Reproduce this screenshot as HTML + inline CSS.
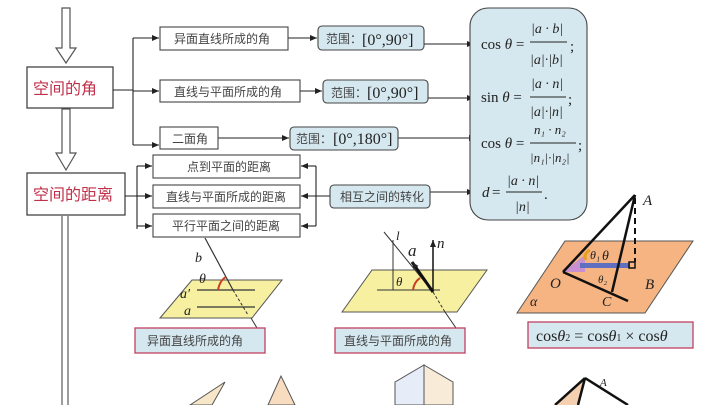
<!DOCTYPE html>
<html><head><meta charset="utf-8"><style>
html,body{margin:0;padding:0;background:#fff;}
svg{display:block}
text{font-family:"Liberation Serif","Noto Serif CJK SC",serif;}
.cn{font-family:"Liberation Sans","Noto Sans CJK SC",sans-serif;font-size:12px;fill:#444;}
.red{font-family:"Liberation Sans","Noto Sans CJK SC",sans-serif;font-size:16px;fill:#c0304a;}
.m{font-family:"Liberation Serif",serif;font-style:italic;fill:#222;}
</style></head><body>
<svg width="719" height="405" viewBox="0 0 719 405" xmlns="http://www.w3.org/2000/svg">
<defs>
<marker id="ar" markerWidth="8" markerHeight="8" refX="7" refY="4" orient="auto" markerUnits="userSpaceOnUse"><path d="M0,1 L7,4 L0,7z" fill="#222"/></marker>
</defs>
<rect width="719" height="405" fill="#fff"/>
<g fill="#fff" stroke="#555" stroke-width="1.2">
<path d="M62,8 H70 V48 H76 L66,63 L56,48 H62Z"/>
<path d="M62,109 H70 V153 H76 L66,170 L56,153 H62Z"/>
</g>
<line x1="62" y1="216" x2="62" y2="405" stroke="#666" stroke-width="1.3"/>
<line x1="68" y1="216" x2="68" y2="405" stroke="#666" stroke-width="1.3"/>
<rect x="27" y="67" width="86" height="41" fill="#fff" stroke="#444" stroke-width="1.3"/>
<text x="33" y="94" class="red">空间的角</text>
<rect x="27" y="173" width="98" height="42" fill="#fff" stroke="#444" stroke-width="1.3"/>
<text x="33" y="200" class="red">空间的距离</text>
<g stroke="#222" stroke-width="1.1" fill="none">
<path d="M113,90 H133 M133,38 V145"/>
<line x1="133" y1="38" x2="159" y2="38" marker-end="url(#ar)"/>
<line x1="133" y1="91" x2="159" y2="91" marker-end="url(#ar)"/>
<line x1="133" y1="145" x2="159" y2="145" marker-end="url(#ar)"/>
<line x1="288" y1="38" x2="317" y2="38" marker-end="url(#ar)"/>
<line x1="300" y1="91" x2="322" y2="91" marker-end="url(#ar)"/>
<line x1="218" y1="138" x2="289" y2="138" marker-end="url(#ar)"/>
<line x1="424" y1="44" x2="474" y2="44" marker-end="url(#ar)"/>
<line x1="428" y1="98" x2="474" y2="98" marker-end="url(#ar)"/>
<line x1="398" y1="138" x2="476" y2="138" marker-end="url(#ar)"/>
<line x1="430" y1="192" x2="474" y2="192" marker-end="url(#ar)"/>
<path d="M125,196 H137 M137,166 V229"/>
<line x1="137" y1="166" x2="152" y2="166" marker-end="url(#ar)"/>
<line x1="137" y1="196" x2="152" y2="196" marker-end="url(#ar)"/>
<line x1="137" y1="226" x2="152" y2="226" marker-end="url(#ar)"/>
<path d="M316,166 V226"/>
<line x1="316" y1="166" x2="301" y2="166" marker-end="url(#ar)"/>
<line x1="330" y1="196" x2="301" y2="196" marker-end="url(#ar)"/>
<line x1="316" y1="226" x2="301" y2="226" marker-end="url(#ar)"/>
</g>
<g fill="#fff" stroke="#444" stroke-width="1.1">
<rect x="160" y="27" width="128" height="23"/>
<rect x="160" y="80" width="140" height="22"/>
<rect x="160" y="127" width="58" height="22"/>
<rect x="153" y="155" width="147" height="23"/>
<rect x="153" y="185" width="147" height="23"/>
<rect x="153" y="214" width="147" height="23"/>
</g>
<text x="174" y="43" class="cn">异面直线所成的角</text>
<text x="174" y="96" class="cn">直线与平面所成的角</text>
<text x="172" y="143" class="cn">二面角</text>
<text x="187" y="171" class="cn">点到平面的距离</text>
<text x="166" y="201" class="cn">直线与平面所成的距离</text>
<text x="172" y="230" class="cn">平行平面之间的距离</text>
<g fill="#d6e8ef" stroke="#444" stroke-width="1.1">
<rect x="318" y="26" width="106" height="24" rx="4"/>
<rect x="323" y="80" width="105" height="23" rx="4"/>
<rect x="290" y="127" width="108" height="23" rx="4"/>
<rect x="330" y="185" width="100" height="23" rx="4"/>
<rect x="470" y="8" width="117" height="212" rx="18"/>
</g>
<text x="326" y="43" class="cn">范围：</text><text x="362" y="45" font-size="16" fill="#222">[0°,90°]</text>
<text x="331" y="97" class="cn">范围：</text><text x="367" y="98" font-size="16" fill="#222">[0°,90°]</text>
<text x="296" y="143" class="cn">范围：</text><text x="333" y="144" font-size="16" fill="#222">[0°,180°]</text>
<text x="340" y="201" class="cn">相互之间的转化</text>
<g fill="#222" font-size="15">
<text x="481" y="49">cos <tspan class="m">θ</tspan> =</text>
<text x="531" y="33" class="m" font-size="14">|a · b|</text>
<line x1="530" y1="42" x2="567" y2="42" stroke="#222"/>
<text x="530" y="64" class="m" font-size="14">|a|·|b|</text><text x="570" y="51">;</text>
<text x="481" y="102">sin <tspan class="m">θ</tspan> =</text>
<text x="531" y="88" class="m" font-size="14">|a · n|</text>
<line x1="530" y1="97" x2="566" y2="97" stroke="#222"/>
<text x="530" y="116" class="m" font-size="14">|a|·|n|</text><text x="568" y="104">;</text>
<text x="481" y="148">cos <tspan class="m">θ</tspan> =</text>
<text x="534" y="134" class="m" font-size="13">n₁ · n₂</text>
<line x1="530" y1="143" x2="576" y2="143" stroke="#222"/>
<text x="530" y="162" class="m" font-size="13">|n₁|·|n₂|</text><text x="578" y="150">;</text>
<text x="482" y="197" class="m">d</text><text x="492" y="197">=</text>
<text x="507" y="185" class="m" font-size="14">|a · n|</text>
<line x1="506" y1="192" x2="542" y2="192" stroke="#222"/>
<text x="515" y="211" class="m" font-size="14">|n|</text><text x="544" y="199">.</text>
</g>
<polygon points="160,318 192,280 282,280 252,318" fill="#f6f0a0" stroke="#555"/>
<line x1="197" y1="290" x2="255" y2="290" stroke="#333" stroke-width="1.2"/>
<line x1="197" y1="307" x2="255" y2="307" stroke="#333" stroke-width="1.2"/>
<line x1="205" y1="238" x2="233" y2="290" stroke="#333" stroke-width="1.2"/>
<line x1="233" y1="290" x2="248" y2="315" stroke="#333" stroke-dasharray="3,2"/>
<line x1="251" y1="318" x2="257" y2="328" stroke="#333"/>
<path d="M218,290 Q220,280 226,277" stroke="#c84020" stroke-width="2" fill="none"/>
<g font-size="14"><text x="195" y="262" class="m">b</text><text x="199" y="283" class="m">θ</text><text x="180" y="298" class="m">a′</text><text x="184" y="315" class="m">a</text></g>
<rect x="135" y="328" width="130" height="25" fill="#d6e8ef" stroke="#c04060" stroke-width="1.3"/>
<text x="147" y="345" class="cn" fill="#224">异面直线所成的角</text>
<polygon points="342,312 372,270 487,270 457,312" fill="#f6f0a0" stroke="#555"/>
<line x1="393" y1="240" x2="393" y2="290" stroke="#333"/>
<line x1="377" y1="290" x2="440" y2="290" stroke="#333"/>
<line x1="384" y1="232" x2="433" y2="292" stroke="#333"/>
<line x1="433" y1="292" x2="445" y2="312" stroke="#333" stroke-dasharray="3,2"/>
<line x1="445" y1="312" x2="456" y2="328" stroke="#333"/>
<line x1="433" y1="292" x2="412" y2="262" stroke="#111" stroke-width="3" marker-end="url(#ar)"/>
<line x1="433" y1="290" x2="433" y2="240" stroke="#111" stroke-width="1.5" marker-end="url(#ar)"/>
<path d="M413,290 Q414,282 420,278" stroke="#c84020" stroke-width="2" fill="none"/>
<text x="396" y="286" class="m" font-size="13">θ</text>
<text x="396" y="240" class="m" font-size="13">l</text>
<text x="408" y="256" class="m" font-size="17">a</text>
<text x="437" y="248" class="m" font-size="15">n</text>
<rect x="335" y="328" width="130" height="25" fill="#d6e8ef" stroke="#c04060" stroke-width="1.3"/>
<text x="344" y="345" class="cn" fill="#224">直线与平面所成的角</text>
<polygon points="517,313 565,241 693,241 645,313" fill="#f5b482" stroke="#555"/>
<polygon points="563,272 585,255 585,272" fill="#c890d0"/>
<rect x="580" y="263" width="50" height="5" fill="#6070c0"/>
<line x1="563" y1="272" x2="635" y2="195" stroke="#111" stroke-width="2.5"/>
<line x1="635" y1="195" x2="612" y2="292" stroke="#111" stroke-width="2.5"/>
<line x1="563" y1="272" x2="628" y2="301" stroke="#111" stroke-width="2.5"/>
<line x1="635" y1="198" x2="635" y2="262" stroke="#111" stroke-width="2" stroke-dasharray="6,4"/>
<rect x="629" y="262" width="6" height="6" fill="none" stroke="#111" stroke-width="1.5"/>
<path d="M586,260 Q583,254 590,250" stroke="#e8a020" stroke-width="3" fill="none"/>
<text x="602" y="260" class="m" font-size="14" fill="#b02020">θ</text>
<text x="590" y="259" class="m" font-size="12" fill="#c02020">θ₁</text>
<text x="598" y="283" class="m" font-size="11">θ₂</text>
<text x="550" y="288" class="m" font-size="15">O</text>
<text x="645" y="289" class="m" font-size="15">B</text>
<text x="602" y="306" class="m" font-size="14">C</text>
<text x="530" y="306" class="m" font-size="14">α</text>
<text x="643" y="205" class="m" font-size="15">A</text>
<rect x="528" y="322" width="165" height="26" fill="#d6e8ef" stroke="#c04060" stroke-width="1.3"/>
<text x="536" y="341" font-size="16" fill="#222">cos<tspan class="m">θ</tspan><tspan font-size="10">2</tspan> = cos<tspan class="m">θ</tspan><tspan font-size="10">1</tspan> × cos<tspan class="m">θ</tspan></text>
<polygon points="190,405 225,382 212,405" fill="#f8e6c8" stroke="#555"/>
<polygon points="268,405 281,376 295,405" fill="#f8dcc0" stroke="#555"/>
<polygon points="395,405 395,382 424,365 424,405" fill="#e6ecf8" stroke="#555"/>
<polygon points="424,365 453,382 453,405 424,405" fill="#f8ecd8" stroke="#555"/>
<polygon points="555,405 585,378 578,405" fill="#f5d0b0"/>
<line x1="585" y1="378" x2="555" y2="405" stroke="#111" stroke-width="2.5"/>
<line x1="585" y1="378" x2="628" y2="405" stroke="#111" stroke-width="2.5"/>
<line x1="585" y1="378" x2="578" y2="405" stroke="#111" stroke-width="2.5"/>
<text x="600" y="386" class="m" font-size="11">A</text>
</svg>
</body></html>
